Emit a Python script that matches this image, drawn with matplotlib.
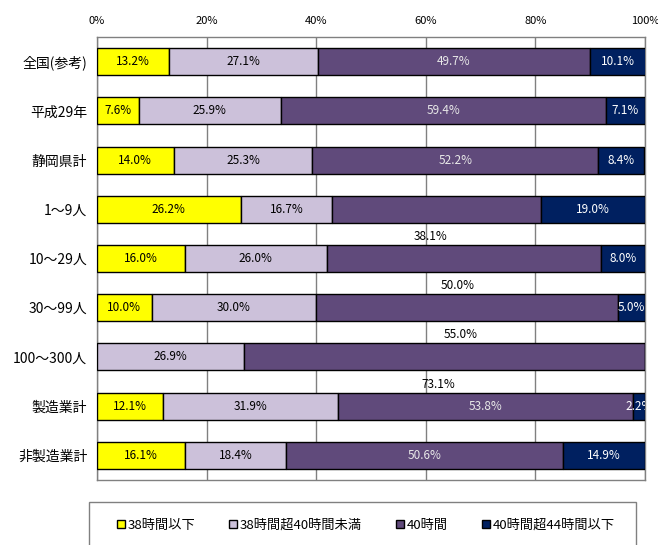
import matplotlib
matplotlib.use("Agg")
import matplotlib.pyplot as plt
from matplotlib.patches import Rectangle, Patch
import numpy as np

plt.rcParams['font.family'] = ['Noto Sans CJK JP', 'DejaVu Sans']

categories = ["全国(参考)", "平成29年", "静岡県計", "1～9人", "10～29人",
              "30～99人", "100～300人", "製造業計", "非製造業計"]
series_names = ["38時間以下", "38時間超40時間未満", "40時間", "40時間超44時間以下"]
h38_or_less = [13.2, 7.6, 14.0, 26.2, 16.0, 10.0, 0.0, 12.1, 16.1]
h38_to_40 = [27.1, 25.9, 25.3, 16.7, 26.0, 30.0, 26.9, 31.9, 18.4]
h40 = [49.7, 59.4, 52.2, 38.1, 50.0, 55.0, 73.1, 53.8, 50.6]
h40_to_44 = [10.1, 7.1, 8.4, 19.0, 8.0, 5.0, 0.0, 2.2, 14.9]
tick_labels = ["0%", "20%", "40%", "60%", "80%", "100%"]

colors = ["#FFFF00", "#CCC1DA", "#604A7B", "#002060"]
text_colors = ["black", "black", "#E8E8E8", "white"]
# rows whose 40時間 label sits just below the bar
shifted_label_rows = {3, 4, 5, 6}

fig = plt.figure(figsize=(6.58, 5.45), dpi=100)
ax = fig.add_axes([97 / 658, 1 - 480 / 545, 548 / 658, 443 / 545])

series = [h38_or_less, h38_to_40, h40, h40_to_44]
y = np.arange(len(categories))
left = np.zeros(len(categories))
for s_idx, vals in enumerate(series):
    vals = np.array(vals)
    ax.barh(y, vals, left=left, height=0.55, color=colors[s_idx],
            edgecolor="black", linewidth=1.0, zorder=3)
    for i, v in enumerate(vals):
        if v <= 0:
            continue
        cx = left[i] + v / 2
        label = f"{v:.1f}%"
        if s_idx == 2 and i in shifted_label_rows:
            ax.annotate(label, (cx, y[i]), xytext=(-4.5, -19.5),
                        textcoords="offset points", ha="center", va="center",
                        fontsize=8.5, color="black", zorder=5)
        else:
            ax.text(cx, y[i], label, ha="center", va="center", fontsize=8.5,
                    color=text_colors[s_idx], zorder=5, clip_on=True)
    left += vals

ax.set_xlim(0, 100)
ax.set_ylim(len(categories) - 0.5, -0.5)
ax.set_xticks(np.arange(0, 101, 20))
ax.set_xticklabels(tick_labels, fontsize=8)
ax.xaxis.tick_top()
ax.tick_params(axis="x", length=0, pad=8)
ax.set_yticks(y)
ax.set_yticklabels(categories, fontsize=10)
ax.tick_params(axis="y", length=0, pad=7)
ax.grid(axis="x", color="#808080", linewidth=1.0, zorder=0)
for side in ["top", "right", "bottom", "left"]:
    ax.spines[side].set_color("#808080")
    ax.spines[side].set_linewidth(1.0)

# legend box
fig.patches.append(Rectangle((89 / 658, -0.01), 547 / 658, (545 - 502) / 545 + 0.01,
                             transform=fig.transFigure, facecolor="white",
                             edgecolor="#808080", linewidth=1.0))
handles = [Patch(facecolor=c, edgecolor="black", linewidth=1.0) for c in colors]
fig.legend(handles, series_names, loc="center", ncol=4,
           bbox_to_anchor=(366 / 658, 1 - 525 / 545), frameon=False,
           fontsize=9.5, handlelength=0.6, handleheight=0.6,
           handletextpad=0.2, columnspacing=2.6)

fig.savefig("out.png", dpi=100)
